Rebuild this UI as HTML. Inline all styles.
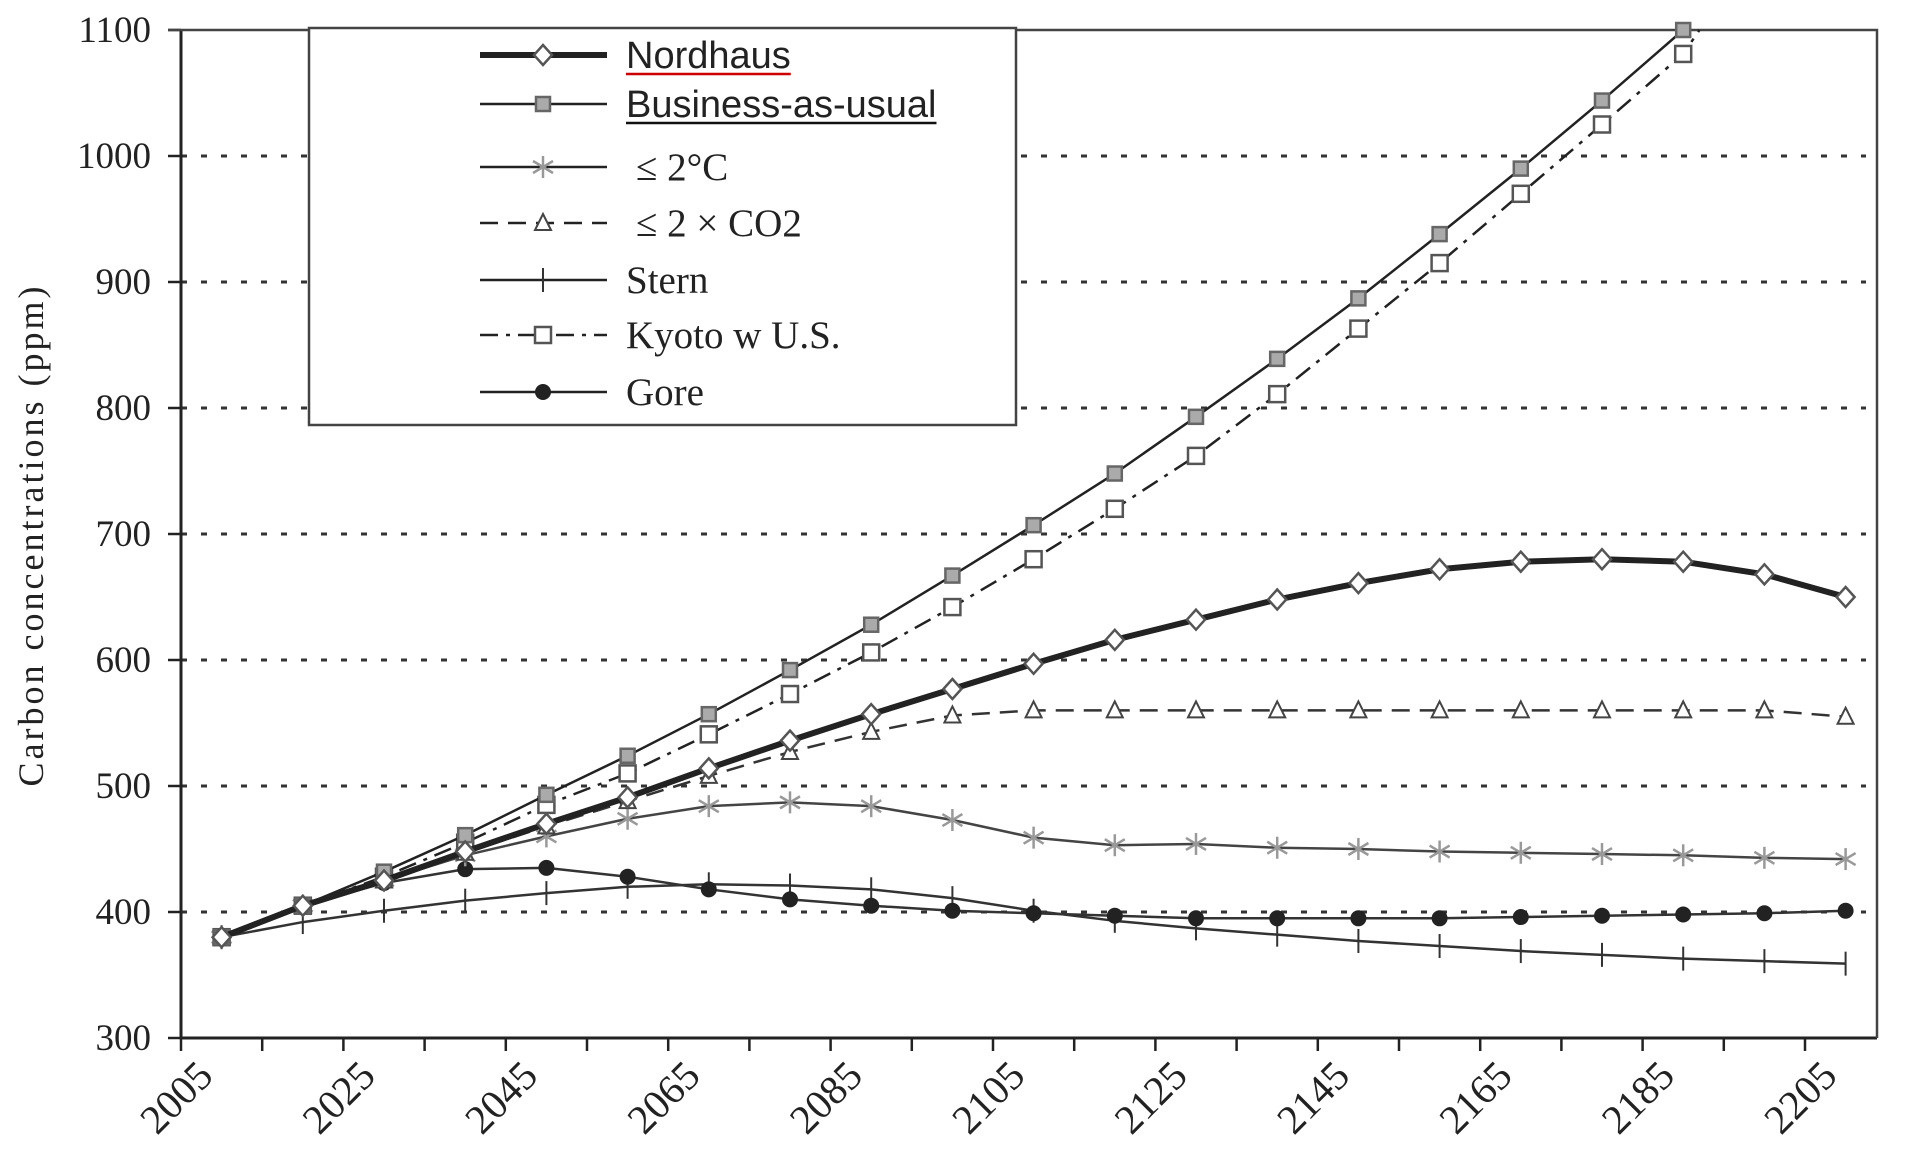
<!DOCTYPE html>
<html><head><meta charset="utf-8"><style>
html,body{margin:0;padding:0;background:#fff;width:1905px;height:1159px;overflow:hidden}
svg text{font-family:"Liberation Serif",serif;fill:#222}
</style></head><body>
<svg id="chart" width="1905" height="1159" viewBox="0 0 1905 1159" xmlns="http://www.w3.org/2000/svg"></svg>
<script>
const years=[2010,2020,2030,2040,2050,2060,2070,2080,2090,2100,2110,2120,2130,2140,2150,2160,2170,2180,2190,2200,2210];
const bau=[380,405,432,461,493,524,557,592,628,667,707,748,793,839,887,938,990,1044,1100];
const kyoto=[380,405,428,455,485,510,541,573,606,642,680,720,762,811,863,915,970,1025,1081];
const nordhaus=[380,405,425,448,470,491,514,536,557,577,597,616,632,648,661,672,678,680,678,668,650];
const twoCO2=[380,405,425,447,468,488,508,527,543,556,560,560,560,560,560,560,560,560,560,560,555];
const twoC=[380,405,425,445,460,474,484,487,484,473,459,453,454,451,450,448,447,446,445,443,442];
const stern=[380,392,401,409,415,420,422,421,418,411,401,393,387,382,377,373,369,366,363,361,359];
const gore=[380,405,423,434,435,428,418,410,405,401,399,397,395,395,395,395,396,397,398,399,401];
const yTicks=[300,400,500,600,700,800,900,1000,1100];
const xTickLabels=[2005,2025,2045,2065,2085,2105,2125,2145,2165,2185,2205];

const NS="http://www.w3.org/2000/svg";
const svg=document.getElementById('chart');
const X0=181,XR=1877,YB=1038,YT=30;
function xs(y){return X0+(y-2005)*8.12;}
function ys(v){return YB-(v-300)*(YB-YT)/800;}
function mk(tag,attrs,parent){const e=document.createElementNS(NS,tag);for(const k in attrs)e.setAttribute(k,attrs[k]);(parent||svg).appendChild(e);return e;}

yTicks.forEach(v=>{
  if(v>300&&v<1100){
    const g=mk('line',{x1:X0,x2:1866,y1:ys(v),y2:ys(v),stroke:'#333','stroke-width':3,'stroke-dasharray':'6 14'});
    
    
  }
  const t=mk('line',{x1:X0-13,x2:X0,y1:ys(v),y2:ys(v),stroke:'#222','stroke-width':2.5});
  
  
  const l=mk('text',{x:151,y:ys(v)+12,'text-anchor':'end','font-size':37});
  l.textContent=v;
  
  
});
const ax=mk('path',{d:`M${X0},${YT}V${YB}H${XR}`,fill:'none',stroke:'#222','stroke-width':3});


const fr=mk('path',{d:`M${X0-13},${YT}H${XR}V${YB}`,fill:'none',stroke:'#444','stroke-width':2.5});


for(let y=2005;y<=2205;y+=10){
  const t=mk('line',{x1:xs(y),x2:xs(y),y1:YB,y2:YB+13,stroke:'#222','stroke-width':2.5});
  
  
}
xTickLabels.forEach(y=>{
  const x=xs(y)+34,yy=YB+40;
  const l=mk('text',{x:x,y:yy,'text-anchor':'end','font-size':41,transform:`rotate(-45 ${x} ${yy})`});
  l.textContent=y;
  
  
});
const yt=mk('text',{x:0,y:0,'text-anchor':'middle','font-size':36,transform:'translate(43,535) rotate(-90)','letter-spacing':'3'});
yt.textContent='Carbon concentrations (ppm)';



function marker(type,x,y,g){
  if(type==='diamond')mk('path',{d:`M${x},${y-10}L${x+9},${y}L${x},${y+10}L${x-9},${y}Z`,fill:'#fff',stroke:'#555','stroke-width':2.5},g);
  else if(type==='sqfill')mk('rect',{x:x-7,y:y-7,width:14,height:14,fill:'#aaa',stroke:'#666','stroke-width':2.5},g);
  else if(type==='sqopen')mk('rect',{x:x-8,y:y-8,width:16,height:16,fill:'#fff',stroke:'#555','stroke-width':2.5},g);
  else if(type==='star'){[[0,-11,0,11],[-10,-6,10,6],[-10,6,10,-6]].forEach(a=>mk('line',{x1:x+a[0],y1:y+a[1],x2:x+a[2],y2:y+a[3],stroke:'#999','stroke-width':2.5},g));}
  else if(type==='tri')mk('path',{d:`M${x},${y-9}L${x+8},${y+7}L${x-8},${y+7}Z`,fill:'#fff',stroke:'#444','stroke-width':2},g);
  else if(type==='plus'){mk('line',{x1:x,y1:y-12,x2:x,y2:y+12,stroke:'#333','stroke-width':2},g);}
  else if(type==='dot')mk('circle',{cx:x,cy:y,r:8,fill:'#222'},g);
}
const series=[
  {name:'stern',vals:stern,w:2.5,dash:'',col:'#333',m:'plus'},
  {name:'gore',vals:gore,w:2.5,dash:'',col:'#333',m:'dot'},
  {name:'two-c',vals:twoC,w:2.5,dash:'',col:'#444',m:'star'},
  {name:'two-co2',vals:twoCO2,w:2.5,dash:'18 10',col:'#333',m:'tri'},
  {name:'kyoto',vals:kyoto,w:2.5,dash:'18 8 4 8',col:'#222',m:'sqopen',ext:[2192,1100]},
  {name:'bau',vals:bau,w:2.5,dash:'',col:'#222',m:'sqfill'},
  {name:'nordhaus',vals:nordhaus,w:6,dash:'',col:'#222',m:'diamond'}
];
series.forEach(s=>{
  const g=mk('g',{});
  
  
  let pts=s.vals.map((v,i)=>[xs(years[i]),ys(v)]);
  if(s.ext)pts.push([xs(s.ext[0]),ys(s.ext[1])]);
  const p=mk('polyline',{points:pts.map(p=>p.join(',')).join(' '),fill:'none',stroke:s.col,'stroke-width':s.w,'stroke-dasharray':s.dash,'stroke-linejoin':'round'},g);
  
  
  s.vals.forEach((v,i)=>marker(s.m,xs(years[i]),ys(v),g));
});

const lg=mk('g',{});


mk('rect',{x:309,y:28,width:707,height:397,fill:'#fff',stroke:'#444','stroke-width':2.5},lg);
const entries=[
  ['Nordhaus',55,'diamond',6,'',true,'#c00'],
  ['Business-as-usual',104,'sqfill',2.5,'',true,'#111'],
  ['\u2264 2\u00b0C',167,'star',2.5,'',false],
  ['\u2264 2 \u00d7 CO2',223,'tri',2.5,'18 10',false],
  ['Stern',280,'plus',2.5,'',false],
  ['Kyoto w U.S.',335,'sqopen',2.5,'18 8 4 8',false],
  ['Gore',392,'dot',2.5,'',false]
];
entries.forEach(e=>{
  const g=mk('g',{},lg);
  
  
  mk('line',{x1:480,x2:607,y1:e[1],y2:e[1],stroke:'#222','stroke-width':e[3],'stroke-dasharray':e[4]},g);
  marker(e[2],543,e[1],g);
  const t=mk('text',{x:e[5]?626:(e[0].startsWith('\u2264')?636:626),y:e[1]+13,'font-size':e[5]?38:39},g);
  if(e[5])t.setAttribute('style','font-family:"Liberation Sans",sans-serif');
  t.textContent=e[0];
  if(e[5]){const bb=t.getBBox();mk('line',{x1:bb.x,x2:bb.x+bb.width,y1:e[1]+19,y2:e[1]+19,stroke:e[6],'stroke-width':2.5},g);}
});
</script>
</body></html>
